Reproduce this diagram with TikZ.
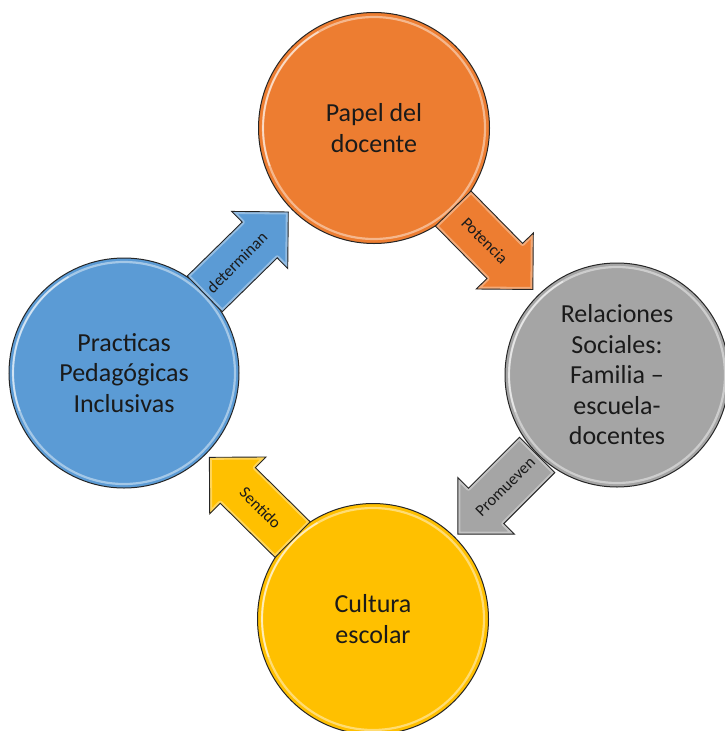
\documentclass[tikz,border=0pt]{standalone}
\usepackage{fontspec}
\setmainfont{Carlito}
\usetikzlibrary{calc}
\definecolor{corange}{HTML}{ED7D31}
\definecolor{cgray}{HTML}{A5A5A5}
\definecolor{cyellow}{HTML}{FFC000}
\definecolor{cblue}{HTML}{5B9BD5}
\definecolor{ctext}{HTML}{1A1A1A}
\tikzset{
  bubble/.style={circle, draw=black!85, line width=1pt, inner sep=0pt, align=center,
    text=ctext, font=\fontsize{26}{30.5}\selectfont},
  bevel/.style={path picture={
    \draw[white, opacity=.45, line width=2.2pt] (path picture bounding box.center) circle[radius=#1];
    \draw[white, opacity=.5, line width=1.6pt] (path picture bounding box.center) ++(120:#1) arc[start angle=120, end angle=200, radius=#1];}},
  arrowbody/.style={draw=black!85, line width=0.9pt},
  arrowlabel/.style={inner sep=0pt, text=ctext, font=\fontsize{16.5}{18}\selectfont},
}
\newcommand{\blockarrow}[6]{% src, dst, colour, label, label rotation, name
  \coordinate (#6tail) at ($(#1.center)!113pt!(#2.center)$);
  \coordinate (#6tip) at ($(#2.center)!120pt!(#1.center)$);
  \coordinate (#6h) at ($(#6tip)!40pt!(#6tail)$);
  \def\arrpath{($(#6tail)!25pt!90:(#6tip)$) -- ($(#6h)!25pt!90:(#6tip)$) -- ($(#6h)!40pt!90:(#6tip)$) -- (#6tip) -- ($(#6h)!40pt!-90:(#6tip)$) -- ($(#6h)!25pt!-90:(#6tip)$) -- ($(#6tail)!25pt!-90:(#6tip)$) -- cycle}
  \fill[#3] \arrpath;
  \begin{scope}
    \clip \arrpath;
    \draw[white, opacity=.35, line width=5pt, line join=round] \arrpath;
  \end{scope}
  \draw[arrowbody] \arrpath;
  \node[arrowlabel, rotate=#5] (#6) at ($(#6tail)!45pt!(#6tip)$) {#4};
}
\begin{document}
\begin{tikzpicture}[x=1pt, y=-1pt]
  \fill[white] (0,0) rectangle (724,731);
  \useasboundingbox (0,0) rectangle (724,731);

  \node[bubble, fill=corange, minimum size=231pt, bevel=111pt] (pap) at (374,128) {Papel del\\docente};
  \node[bubble, fill=cgray, minimum size=224pt, bevel=108pt] (rel) at (617,375) {Relaciones\\Sociales:\\Familia –\\escuela-\\docentes};
  \node[bubble, fill=cyellow, minimum size=231pt, bevel=111pt] (cul) at (373,619) {Cultura\\escolar};
  \node[bubble, fill=cblue, minimum size=230pt, bevel=111pt] (pra) at (124,373) {Practicas\\Pedagógicas\\Inclusivas};

  \blockarrow{pra}{pap}{cblue}{determinan}{45}{a1}
  \blockarrow{pap}{rel}{corange}{Potencia}{-45}{a2}
  \blockarrow{rel}{cul}{cgray}{Promueven}{45}{a3}
  \blockarrow{cul}{pra}{cyellow}{Sentido}{-45}{a4}
\end{tikzpicture}
\end{document}
